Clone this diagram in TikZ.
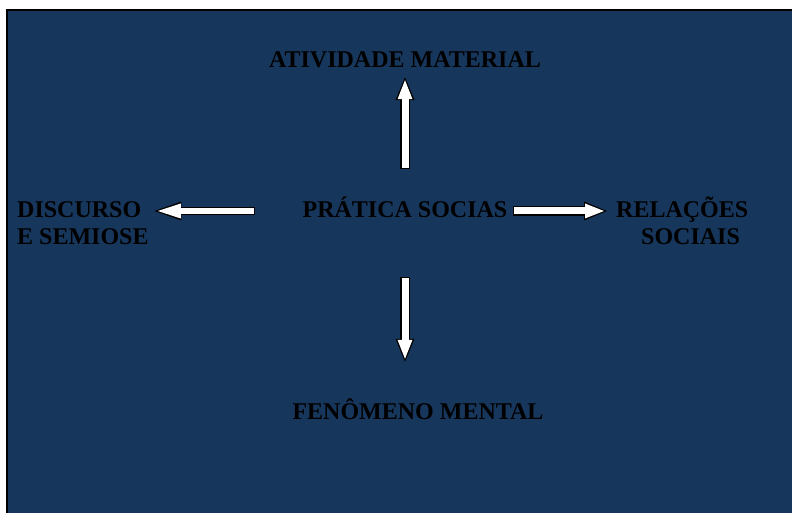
\documentclass[tikz,border=0pt]{standalone}
\usepackage{fontspec}
\setmainfont{Liberation Serif}
\usepackage{tikz}
\usetikzlibrary{positioning, arrows.meta}
\usepackage{xcolor}
\definecolor{panelblue}{RGB}{23,54,92}

\begin{document}
\begin{tikzpicture}[
                x=1pt, y=1pt,
                label/.style={font=\fontsize{24}{27}\selectfont\bfseries, text=black, inner sep=0pt},
                oneline/.style={label, text height=17pt, text depth=4pt},
                arrowback/.style={draw=black, line width=10pt, -{Triangle[length=23pt, width=19pt, line width=0pt]}},
                arrowfront/.style={draw=white, line width=7pt, -{Triangle[length=19pt, width=15pt, line width=0pt]}},
            ]
            \useasboundingbox (0,0) rectangle (792,513);
            \clip (0,0) rectangle (792,513);

            % Panel
            \fill[panelblue] (7,503) rectangle (792,0);
            \draw[line width=2pt] (7,0) |- (792,503);

            % Nodes
            \node[oneline, anchor=base] (pratica) at (405,295.5) {PRÁTICA SOCIAS};
            \node[oneline, anchor=base] (atividade) at (405,445) {ATIVIDADE MATERIAL};
            \node[oneline, anchor=base] (fenomeno) at (418,93.7) {FENÔMENO MENTAL};
            \node[label, align=left, anchor=base west] (discurso) at (17,268.5) {DISCURSO\\E SEMIOSE};
            \node[label, align=left, anchor=base west] (relacoes) at (616,268.5) {RELAÇÕES\\\hspace*{25pt}SOCIAIS};

            % Block arrows
            \draw[arrowback, shorten <=31.5pt, shorten >=5pt] (pratica.north) -- (atividade.south);
            \draw[arrowfront, shorten <=32.7pt, shorten >=8pt] (pratica.north) -- (atividade.south);

            \draw[arrowback, shorten <=55.5pt, shorten >=40.3pt] (pratica.south) -- (pratica.south |- fenomeno.north);
            \draw[arrowfront, shorten <=56.7pt, shorten >=43.3pt] (pratica.south) -- (pratica.south |- fenomeno.north);

            \draw[arrowback, line width=8.5pt, -{Triangle[length=27pt, width=19pt, line width=0pt]},
                  shorten <=47.7pt, shorten >=5.6pt] (pratica.west) -- (pratica.west -| discurso.east);
            \draw[arrowfront, line width=5.5pt, -{Triangle[length=23pt, width=15pt, line width=0pt]},
                  shorten <=48.9pt, shorten >=9pt] (pratica.west) -- (pratica.west -| discurso.east);

            \draw[arrowback, shorten <=5.7pt, shorten >=9pt] (pratica.east) -- (pratica.east -| relacoes.west);
            \draw[arrowfront, shorten <=6.9pt, shorten >=12pt] (pratica.east) -- (pratica.east -| relacoes.west);

\end{tikzpicture}
\end{document}
